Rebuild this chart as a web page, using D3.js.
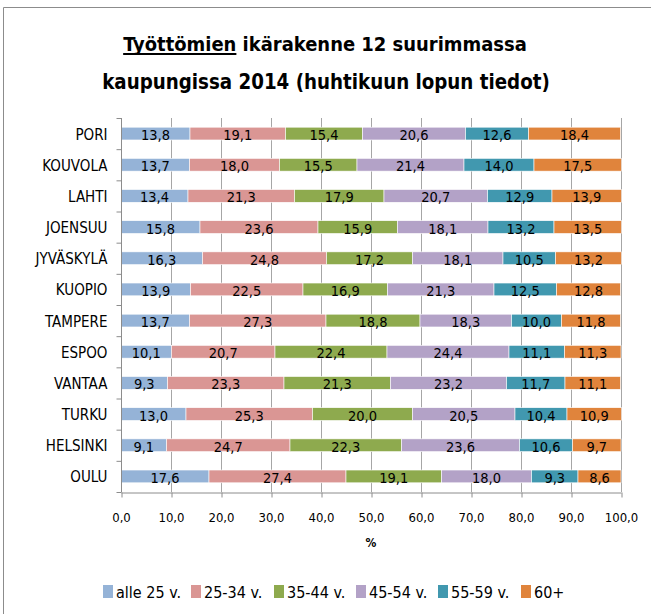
<!DOCTYPE html>
<html>
<head>
<meta charset="utf-8">
<script src="https://cdn.jsdelivr.net/npm/d3@7"></script>
<style>
  body { margin: 0; background: #fff; }
  svg text { font-family: "Liberation Sans Narrow", "DejaVu Sans Condensed", "Open Sans", sans-serif; fill: #000; }
</style>
</head>
<body>
<div class="visualization"></div>
<script>
// data (per cent of unemployed by age group)
const cities = ['PORI', 'KOUVOLA', 'LAHTI', 'JOENSUU', 'JYVÄSKYLÄ', 'KUOPIO', 'TAMPERE', 'ESPOO', 'VANTAA', 'TURKU', 'HELSINKI', 'OULU'];
const groups = ['alle 25 v.', '25-34 v.', '35-44 v.', '45-54 v.', '55-59 v.', '60+'];
const under25 = [13.8, 13.7, 13.4, 15.8, 16.3, 13.9, 13.7, 10.1, 9.3, 13.0, 9.1, 17.6];
const age25to34 = [19.1, 18.0, 21.3, 23.6, 24.8, 22.5, 27.3, 20.7, 23.3, 25.3, 24.7, 27.4];
const age35to44 = [15.4, 15.5, 17.9, 15.9, 17.2, 16.9, 18.8, 22.4, 21.3, 20.0, 22.3, 19.1];
const age45to54 = [20.6, 21.4, 20.7, 18.1, 18.1, 21.3, 18.3, 24.4, 23.2, 20.5, 23.6, 18.0];
const age55to59 = [12.6, 14.0, 12.9, 13.2, 10.5, 12.5, 10.0, 11.1, 11.7, 10.4, 10.6, 9.3];
const age60plus = [18.4, 17.5, 13.9, 13.5, 13.2, 12.8, 11.8, 11.3, 11.1, 10.9, 9.7, 8.6];
const xTicks = [0, 10, 20, 30, 40, 50, 60, 70, 80, 90, 100];
const colors = ['#95b3d7', '#da9694', '#8eaa4e', '#b3a2c7', '#4198af', '#e0843c'];

const series = [under25, age25to34, age35to44, age45to54, age55to59, age60plus];
const rows = cities.map((c, i) => {
    const r = {city: c};
    groups.forEach((g, j) => r[g] = series[j][i]);
    return r;
});

const width = 651, height = 614;
const margin = {top: 118, left: 121, right: 30, bottom: 122};

const svg = d3.select('.visualization').append('svg')
    .attr('width', width)
    .attr('height', height);

// outer frame (only left and top edges show in the crop)
svg.append('path')
    .attr('d', `M3.5,${height} V7.5 H${width}`)
    .attr('fill', 'none')
    .attr('stroke', '#8c8c8c')
    .attr('stroke-width', 1);

// title, sized so each line spans the same width as in the original
const title = svg.append('g').attr('class', 'title')
    .style('font-weight', 'bold');
function fitLine(str, cx, baseline, targetWidth) {
    const t = title.append('text')
        .attr('x', cx).attr('y', baseline)
        .attr('text-anchor', 'middle')
        .style('font-size', '26px')
        .text(str);
    const w = t.node().getComputedTextLength();
    t.style('font-size', (26 * targetWidth / w) + 'px');
    return t;
}
const t1 = fitLine('Työttömien ikärakenne 12 suurimmassa', 325, 51, 404);
fitLine('kaupungissa 2014 (huhtikuun lopun tiedot)', 326, 89, 448);
// underline the first word
const ulStart = t1.node().getStartPositionOfChar(0).x;
const ulEnd = t1.node().getEndPositionOfChar(9).x;
title.append('line')
    .attr('x1', ulStart).attr('x2', ulEnd)
    .attr('y1', 54).attr('y2', 54)
    .attr('stroke', '#000')
    .attr('stroke-width', 2);

const x = d3.scaleLinear()
    .domain([0, 100])
    .range([margin.left, width - margin.right]);
const y = d3.scaleBand()
    .domain(cities)
    .range([margin.top, height - margin.bottom])
    .paddingInner(0.59)
    .paddingOuter(0.295);

// vertical gridlines
svg.append('g').attr('class', 'grid')
    .selectAll('line')
    .data(xTicks.slice(1))
    .join('line')
    .attr('x1', d => x(d) + 0.5).attr('x2', d => x(d) + 0.5)
    .attr('y1', margin.top).attr('y2', height - margin.bottom)
    .attr('stroke', '#a6a6a6');

const stack = d3.stack().keys(groups)(rows);

const layers = svg.append('g').attr('class', 'bars')
    .selectAll('g')
    .data(stack)
    .join('g')
    .attr('fill', (d, i) => colors[i]);

layers.selectAll('rect')
    .data(d => d)
    .join('rect')
    .attr('x', d => x(d[0]))
    .attr('width', d => x(d[1]) - x(d[0]))
    .attr('y', d => y(d.data.city))
    .attr('height', y.bandwidth())
    .attr('stroke', '#fff')
    .attr('stroke-width', 0.6);

layers.selectAll('text')
    .data(d => d)
    .join('text')
    .attr('x', d => (x(d[0]) + x(d[1])) / 2)
    .attr('y', d => y(d.data.city) + y.bandwidth() / 2 + 1.5)
    .attr('text-anchor', 'middle')
    .attr('dominant-baseline', 'central')
    .style('font-size', '14.5px')
    .text(d => d3.format('.1f')(d[1] - d[0]).replace('.', ','));

// y axis
const yAxis = svg.append('g')
    .attr('transform', `translate(${margin.left + 0.5},0)`);
yAxis.append('line')
    .attr('y1', margin.top).attr('y2', height - margin.bottom)
    .attr('stroke', '#8c8c8c');
yAxis.selectAll('line.tick')
    .data(d3.range(cities.length + 1))
    .join('line')
    .attr('class', 'tick')
    .attr('x1', -5).attr('x2', 0)
    .attr('y1', i => margin.top + i * y.step() + 0.5)
    .attr('y2', i => margin.top + i * y.step() + 0.5)
    .attr('stroke', '#8c8c8c');
yAxis.selectAll('text')
    .data(cities)
    .join('text')
    .attr('x', -14)
    .attr('y', d => y(d) + y.bandwidth() / 2 + 1)
    .attr('text-anchor', 'end')
    .attr('dominant-baseline', 'central')
    .style('font-size', '15px')
    .text(d => d);

// x axis
const xAxis = svg.append('g')
    .attr('transform', `translate(0,${height - margin.bottom + 0.5})`)
    .call(d3.axisBottom(x).tickValues(xTicks).tickSize(5).tickSizeOuter(0)
        .tickFormat(d => d3.format('.1f')(d).replace('.', ',')));
xAxis.select('.domain').attr('stroke', '#8c8c8c');
xAxis.selectAll('.tick line').attr('stroke', '#8c8c8c')
    .attr('transform', 'translate(0.5,0)');
xAxis.selectAll('.tick text')
    .attr('y', 20)
    .style('font-family', null)
    .style('font-size', '13px')
    .attr('fill', '#000');

svg.append('text')
    .attr('x', x(50)).attr('y', 547)
    .attr('text-anchor', 'middle')
    .style('font-size', '12px')
    .style('font-weight', 'bold')
    .text('%');

// legend
const legendX = [103, 191, 274, 356, 438, 521];
const legend = svg.append('g').attr('class', 'legend')
    .selectAll('g')
    .data(groups)
    .join('g')
    .attr('transform', (d, i) => `translate(${legendX[i]},585)`);
legend.append('rect')
    .attr('width', 10).attr('height', 13)
    .attr('fill', (d, i) => colors[i]);
legend.append('text')
    .attr('x', 13).attr('y', 7)
    .attr('dominant-baseline', 'central')
    .style('font-size', '16px')
    .text(d => d);
</script>
</body>
</html>
